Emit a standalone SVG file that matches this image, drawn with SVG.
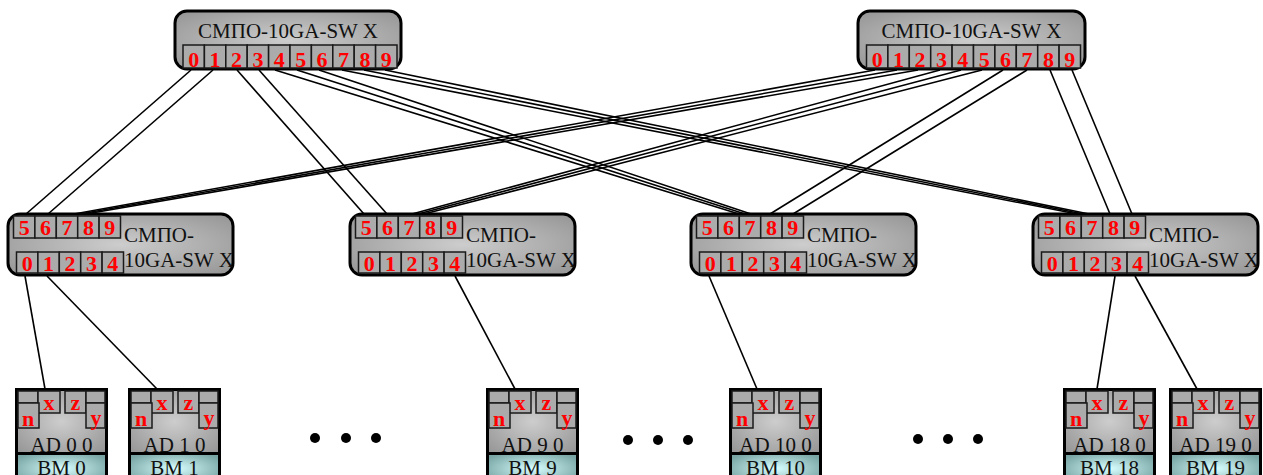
<svg xmlns="http://www.w3.org/2000/svg" width="1263" height="475" viewBox="0 0 1263 475">
  <defs>
    <radialGradient id="gGray" cx="50%" cy="50%" r="65%">
      <stop offset="0" stop-color="#cdcdcd"/>
      <stop offset="1" stop-color="#989898"/>
    </radialGradient>
    <radialGradient id="gTeal" cx="50%" cy="50%" r="60%">
      <stop offset="0" stop-color="#d8ffff"/>
      <stop offset="1" stop-color="#78a4a4"/>
    </radialGradient>
    <style>
      .box { fill: url(#gGray); stroke: #000; stroke-width: 3; }
      .cell { fill: #ababab; stroke: #1a1a1a; stroke-width: 1.5; }
      .bm { fill: url(#gTeal); stroke: #000; stroke-width: 3; }
      .num { font-family: "Liberation Serif", serif; font-weight: bold; font-size: 22px; fill: #ff0000; text-anchor: middle; }
      .pin { font-family: "Liberation Serif", serif; font-weight: bold; font-size: 22px; fill: #ff0000; text-anchor: middle; }
      .lbl { font-family: "Liberation Serif", serif; font-size: 21px; fill: #111; }
      .mid { text-anchor: middle; }
      .wire { stroke: #000; stroke-width: 1.6; fill: none; }
      .dot { fill: #000; }
    </style>
  </defs>

  <rect width="1263" height="475" fill="#fff"/>

  <!-- connectors -->
  <g id="connectors">
    <!-- left core switch to access switches -->
    <path class="wire" d="M191,70 L26,214"/>
    <path class="wire" d="M213,70 L48,214"/>
    <path class="wire" d="M237,70 L364,214"/>
    <path class="wire" d="M259,70 L387,214"/>
    <path class="wire" d="M275,70 L739,214"/>
    <path class="wire" d="M297,70 L745,214"/>
    <path class="wire" d="M319,70 L751,214"/>
    <path class="wire" d="M342,70 L1077,214"/>
    <path class="wire" d="M364,70 L1083,214"/>
    <path class="wire" d="M385,70 L1089,214"/>
    <!-- right core switch to access switches -->
    <path class="wire" d="M875,70 L74,214"/>
    <path class="wire" d="M897,70 L80,214"/>
    <path class="wire" d="M918,70 L86,214"/>
    <path class="wire" d="M940,70 L412,214"/>
    <path class="wire" d="M961,70 L418,214"/>
    <path class="wire" d="M982,70 L424,214"/>
    <path class="wire" d="M1003,70 L770,214"/>
    <path class="wire" d="M1027,70 L793,214"/>
    <path class="wire" d="M1050,70 L1110,214"/>
    <path class="wire" d="M1072,70 L1132,214"/>
    <!-- access switches to adapters -->
    <path class="wire" d="M25,276 L45,389"/>
    <path class="wire" d="M47,276 L157,389"/>
    <path class="wire" d="M455,276 L515,389"/>
    <path class="wire" d="M709,276 L757,389"/>
    <path class="wire" d="M1115,276 L1097,389"/>
    <path class="wire" d="M1135,276 L1197,389"/>
  </g>

  <!-- core switches -->
  <g id="core0" transform="translate(175,11)">
    <rect class="box" x="0" y="0" width="226" height="58" rx="12"/>
    <text class="lbl mid" x="113" y="26.5">СМПО-10GA-SW X</text>
    <rect class="cell" x="8" y="34" width="21.4" height="23"/><text class="num" x="18.7" y="56">0</text>
    <rect class="cell" x="29.4" y="34" width="21.4" height="23"/><text class="num" x="40.1" y="56">1</text>
    <rect class="cell" x="50.8" y="34" width="21.4" height="23"/><text class="num" x="61.5" y="56">2</text>
    <rect class="cell" x="72.2" y="34" width="21.4" height="23"/><text class="num" x="82.9" y="56">3</text>
    <rect class="cell" x="93.6" y="34" width="21.4" height="23"/><text class="num" x="104.3" y="56">4</text>
    <rect class="cell" x="115" y="34" width="21.4" height="23"/><text class="num" x="125.7" y="56">5</text>
    <rect class="cell" x="136.4" y="34" width="21.4" height="23"/><text class="num" x="147.1" y="56">6</text>
    <rect class="cell" x="157.8" y="34" width="21.4" height="23"/><text class="num" x="168.5" y="56">7</text>
    <rect class="cell" x="179.2" y="34" width="21.4" height="23"/><text class="num" x="189.9" y="56">8</text>
    <rect class="cell" x="200.6" y="34" width="21.4" height="23"/><text class="num" x="211.3" y="56">9</text>
  </g>

  <g id="core1" transform="translate(858,11)">
    <rect class="box" x="0" y="0" width="227" height="58" rx="12"/>
    <text class="lbl mid" x="113.5" y="26.5">СМПО-10GA-SW X</text>
    <rect class="cell" x="8.5" y="34" width="21.4" height="23"/><text class="num" x="19.2" y="56">0</text>
    <rect class="cell" x="29.9" y="34" width="21.4" height="23"/><text class="num" x="40.6" y="56">1</text>
    <rect class="cell" x="51.3" y="34" width="21.4" height="23"/><text class="num" x="62" y="56">2</text>
    <rect class="cell" x="72.7" y="34" width="21.4" height="23"/><text class="num" x="83.4" y="56">3</text>
    <rect class="cell" x="94.1" y="34" width="21.4" height="23"/><text class="num" x="104.8" y="56">4</text>
    <rect class="cell" x="115.5" y="34" width="21.4" height="23"/><text class="num" x="126.2" y="56">5</text>
    <rect class="cell" x="136.9" y="34" width="21.4" height="23"/><text class="num" x="147.6" y="56">6</text>
    <rect class="cell" x="158.3" y="34" width="21.4" height="23"/><text class="num" x="169" y="56">7</text>
    <rect class="cell" x="179.7" y="34" width="21.4" height="23"/><text class="num" x="190.4" y="56">8</text>
    <rect class="cell" x="201.1" y="34" width="21.4" height="23"/><text class="num" x="211.8" y="56">9</text>
  </g>

  <!-- access switches -->
  <g id="sw0" transform="translate(8,214)">
    <rect class="box" x="0" y="0" width="225" height="61" rx="12"/>
    <rect class="cell" x="5.5" y="2" width="21.4" height="22"/><text class="num" x="16.2" y="21">5</text>
    <rect class="cell" x="26.9" y="2" width="21.4" height="22"/><text class="num" x="37.6" y="21">6</text>
    <rect class="cell" x="48.3" y="2" width="21.4" height="22"/><text class="num" x="59" y="21">7</text>
    <rect class="cell" x="69.7" y="2" width="21.4" height="22"/><text class="num" x="80.4" y="21">8</text>
    <rect class="cell" x="91.1" y="2" width="21.4" height="22"/><text class="num" x="101.8" y="21">9</text>
    <rect class="cell" x="8.5" y="38" width="21.4" height="21"/><text class="num" x="19.2" y="57">0</text>
    <rect class="cell" x="29.9" y="38" width="21.4" height="21"/><text class="num" x="40.6" y="57">1</text>
    <rect class="cell" x="51.3" y="38" width="21.4" height="21"/><text class="num" x="62" y="57">2</text>
    <rect class="cell" x="72.7" y="38" width="21.4" height="21"/><text class="num" x="83.4" y="57">3</text>
    <rect class="cell" x="94.1" y="38" width="21.4" height="21"/><text class="num" x="104.8" y="57">4</text>
    <text class="lbl" x="116" y="28">СМПО-</text>
    <text class="lbl" x="116" y="53">10GA-SW X</text>
  </g>

  <g id="sw1" transform="translate(350,214)">
    <rect class="box" x="0" y="0" width="225" height="61" rx="12"/>
    <rect class="cell" x="5.5" y="2" width="21.4" height="22"/><text class="num" x="16.2" y="21">5</text>
    <rect class="cell" x="26.9" y="2" width="21.4" height="22"/><text class="num" x="37.6" y="21">6</text>
    <rect class="cell" x="48.3" y="2" width="21.4" height="22"/><text class="num" x="59" y="21">7</text>
    <rect class="cell" x="69.7" y="2" width="21.4" height="22"/><text class="num" x="80.4" y="21">8</text>
    <rect class="cell" x="91.1" y="2" width="21.4" height="22"/><text class="num" x="101.8" y="21">9</text>
    <rect class="cell" x="8.5" y="38" width="21.4" height="21"/><text class="num" x="19.2" y="57">0</text>
    <rect class="cell" x="29.9" y="38" width="21.4" height="21"/><text class="num" x="40.6" y="57">1</text>
    <rect class="cell" x="51.3" y="38" width="21.4" height="21"/><text class="num" x="62" y="57">2</text>
    <rect class="cell" x="72.7" y="38" width="21.4" height="21"/><text class="num" x="83.4" y="57">3</text>
    <rect class="cell" x="94.1" y="38" width="21.4" height="21"/><text class="num" x="104.8" y="57">4</text>
    <text class="lbl" x="116" y="28">СМПО-</text>
    <text class="lbl" x="116" y="53">10GA-SW X</text>
  </g>

  <g id="sw2" transform="translate(691,214)">
    <rect class="box" x="0" y="0" width="225" height="61" rx="12"/>
    <rect class="cell" x="5.5" y="2" width="21.4" height="22"/><text class="num" x="16.2" y="21">5</text>
    <rect class="cell" x="26.9" y="2" width="21.4" height="22"/><text class="num" x="37.6" y="21">6</text>
    <rect class="cell" x="48.3" y="2" width="21.4" height="22"/><text class="num" x="59" y="21">7</text>
    <rect class="cell" x="69.7" y="2" width="21.4" height="22"/><text class="num" x="80.4" y="21">8</text>
    <rect class="cell" x="91.1" y="2" width="21.4" height="22"/><text class="num" x="101.8" y="21">9</text>
    <rect class="cell" x="8.5" y="38" width="21.4" height="21"/><text class="num" x="19.2" y="57">0</text>
    <rect class="cell" x="29.9" y="38" width="21.4" height="21"/><text class="num" x="40.6" y="57">1</text>
    <rect class="cell" x="51.3" y="38" width="21.4" height="21"/><text class="num" x="62" y="57">2</text>
    <rect class="cell" x="72.7" y="38" width="21.4" height="21"/><text class="num" x="83.4" y="57">3</text>
    <rect class="cell" x="94.1" y="38" width="21.4" height="21"/><text class="num" x="104.8" y="57">4</text>
    <text class="lbl" x="116" y="28">СМПО-</text>
    <text class="lbl" x="116" y="53">10GA-SW X</text>
  </g>

  <g id="sw3" transform="translate(1033,214)">
    <rect class="box" x="0" y="0" width="225" height="61" rx="12"/>
    <rect class="cell" x="5.5" y="2" width="21.4" height="22"/><text class="num" x="16.2" y="21">5</text>
    <rect class="cell" x="26.9" y="2" width="21.4" height="22"/><text class="num" x="37.6" y="21">6</text>
    <rect class="cell" x="48.3" y="2" width="21.4" height="22"/><text class="num" x="59" y="21">7</text>
    <rect class="cell" x="69.7" y="2" width="21.4" height="22"/><text class="num" x="80.4" y="21">8</text>
    <rect class="cell" x="91.1" y="2" width="21.4" height="22"/><text class="num" x="101.8" y="21">9</text>
    <rect class="cell" x="8.5" y="38" width="21.4" height="21"/><text class="num" x="19.2" y="57">0</text>
    <rect class="cell" x="29.9" y="38" width="21.4" height="21"/><text class="num" x="40.6" y="57">1</text>
    <rect class="cell" x="51.3" y="38" width="21.4" height="21"/><text class="num" x="62" y="57">2</text>
    <rect class="cell" x="72.7" y="38" width="21.4" height="21"/><text class="num" x="83.4" y="57">3</text>
    <rect class="cell" x="94.1" y="38" width="21.4" height="21"/><text class="num" x="104.8" y="57">4</text>
    <text class="lbl" x="116" y="28">СМПО-</text>
    <text class="lbl" x="116" y="53">10GA-SW X</text>
  </g>

  <!-- adapters -->
  <g id="ad0" transform="translate(15,388)">
    <rect class="bm" x="1.5" y="65.5" width="90" height="30"/>
    <rect class="box" x="1.5" y="1.5" width="90" height="64"/>
    <rect class="cell" x="3" y="3" width="20" height="12"/>
    <rect class="cell" x="23" y="3" width="22" height="22"/>
    <rect class="cell" x="50" y="3" width="21" height="22"/>
    <rect class="cell" x="71" y="3" width="19" height="12"/>
    <rect class="cell" x="3" y="15" width="21" height="25"/>
    <rect class="cell" x="71" y="15" width="19" height="25"/>
    <text class="pin" x="34" y="22">x</text>
    <text class="pin" x="60.5" y="22">z</text>
    <text class="pin" x="13" y="38">n</text>
    <text class="pin" x="81" y="37">y</text>
    <text class="lbl mid" x="46.5" y="64">AD 0 0</text>
    <text class="lbl mid" x="46.5" y="87">BM 0</text>
  </g>

  <g id="ad1" transform="translate(128,388)">
    <rect class="bm" x="1.5" y="65.5" width="90" height="30"/>
    <rect class="box" x="1.5" y="1.5" width="90" height="64"/>
    <rect class="cell" x="3" y="3" width="20" height="12"/>
    <rect class="cell" x="23" y="3" width="22" height="22"/>
    <rect class="cell" x="50" y="3" width="21" height="22"/>
    <rect class="cell" x="71" y="3" width="19" height="12"/>
    <rect class="cell" x="3" y="15" width="21" height="25"/>
    <rect class="cell" x="71" y="15" width="19" height="25"/>
    <text class="pin" x="34" y="22">x</text>
    <text class="pin" x="60.5" y="22">z</text>
    <text class="pin" x="13" y="38">n</text>
    <text class="pin" x="81" y="37">y</text>
    <text class="lbl mid" x="46.5" y="64">AD 1 0</text>
    <text class="lbl mid" x="46.5" y="87">BM 1</text>
  </g>

  <g id="ad9" transform="translate(486,388)">
    <rect class="bm" x="1.5" y="65.5" width="90" height="30"/>
    <rect class="box" x="1.5" y="1.5" width="90" height="64"/>
    <rect class="cell" x="3" y="3" width="20" height="12"/>
    <rect class="cell" x="23" y="3" width="22" height="22"/>
    <rect class="cell" x="50" y="3" width="21" height="22"/>
    <rect class="cell" x="71" y="3" width="19" height="12"/>
    <rect class="cell" x="3" y="15" width="21" height="25"/>
    <rect class="cell" x="71" y="15" width="19" height="25"/>
    <text class="pin" x="34" y="22">x</text>
    <text class="pin" x="60.5" y="22">z</text>
    <text class="pin" x="13" y="38">n</text>
    <text class="pin" x="81" y="37">y</text>
    <text class="lbl mid" x="46.5" y="64">AD 9 0</text>
    <text class="lbl mid" x="46.5" y="87">BM 9</text>
  </g>

  <g id="ad10" transform="translate(729,388)">
    <rect class="bm" x="1.5" y="65.5" width="90" height="30"/>
    <rect class="box" x="1.5" y="1.5" width="90" height="64"/>
    <rect class="cell" x="3" y="3" width="20" height="12"/>
    <rect class="cell" x="23" y="3" width="22" height="22"/>
    <rect class="cell" x="50" y="3" width="21" height="22"/>
    <rect class="cell" x="71" y="3" width="19" height="12"/>
    <rect class="cell" x="3" y="15" width="21" height="25"/>
    <rect class="cell" x="71" y="15" width="19" height="25"/>
    <text class="pin" x="34" y="22">x</text>
    <text class="pin" x="60.5" y="22">z</text>
    <text class="pin" x="13" y="38">n</text>
    <text class="pin" x="81" y="37">y</text>
    <text class="lbl mid" x="46.5" y="64">AD 10 0</text>
    <text class="lbl mid" x="46.5" y="87">BM 10</text>
  </g>

  <g id="ad18" transform="translate(1063,388)">
    <rect class="bm" x="1.5" y="65.5" width="90" height="30"/>
    <rect class="box" x="1.5" y="1.5" width="90" height="64"/>
    <rect class="cell" x="3" y="3" width="20" height="12"/>
    <rect class="cell" x="23" y="3" width="22" height="22"/>
    <rect class="cell" x="50" y="3" width="21" height="22"/>
    <rect class="cell" x="71" y="3" width="19" height="12"/>
    <rect class="cell" x="3" y="15" width="21" height="25"/>
    <rect class="cell" x="71" y="15" width="19" height="25"/>
    <text class="pin" x="34" y="22">x</text>
    <text class="pin" x="60.5" y="22">z</text>
    <text class="pin" x="13" y="38">n</text>
    <text class="pin" x="81" y="37">y</text>
    <text class="lbl mid" x="46.5" y="64">AD 18 0</text>
    <text class="lbl mid" x="46.5" y="87">BM 18</text>
  </g>

  <g id="ad19" transform="translate(1169,388)">
    <rect class="bm" x="1.5" y="65.5" width="90" height="30"/>
    <rect class="box" x="1.5" y="1.5" width="90" height="64"/>
    <rect class="cell" x="3" y="3" width="20" height="12"/>
    <rect class="cell" x="23" y="3" width="22" height="22"/>
    <rect class="cell" x="50" y="3" width="21" height="22"/>
    <rect class="cell" x="71" y="3" width="19" height="12"/>
    <rect class="cell" x="3" y="15" width="21" height="25"/>
    <rect class="cell" x="71" y="15" width="19" height="25"/>
    <text class="pin" x="34" y="22">x</text>
    <text class="pin" x="60.5" y="22">z</text>
    <text class="pin" x="13" y="38">n</text>
    <text class="pin" x="81" y="37">y</text>
    <text class="lbl mid" x="46.5" y="64">AD 19 0</text>
    <text class="lbl mid" x="46.5" y="87">BM 19</text>
  </g>

  <!-- ellipsis marks between adapter groups -->
  <g id="ellipses">
    <circle class="dot" cx="315" cy="438" r="5"/>
    <circle class="dot" cx="346" cy="438" r="5"/>
    <circle class="dot" cx="376" cy="438" r="5"/>
    <circle class="dot" cx="628" cy="440" r="5"/>
    <circle class="dot" cx="658" cy="440" r="5"/>
    <circle class="dot" cx="688" cy="440" r="5"/>
    <circle class="dot" cx="918" cy="439" r="5"/>
    <circle class="dot" cx="948" cy="439" r="5"/>
    <circle class="dot" cx="978" cy="439" r="5"/>
  </g>
</svg>
